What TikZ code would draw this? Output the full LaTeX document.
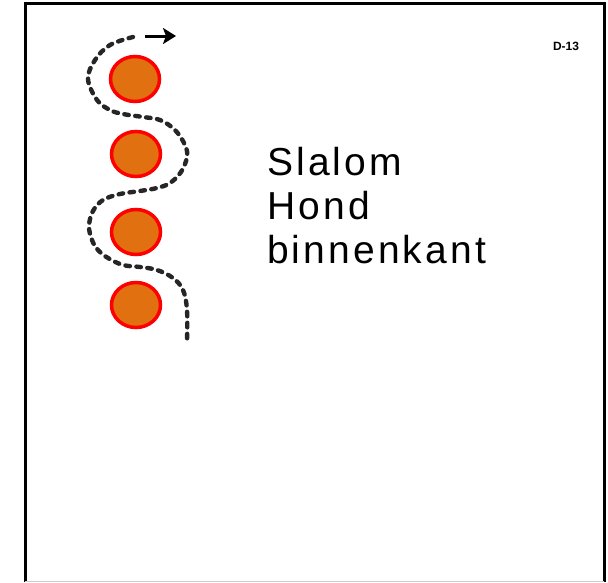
\documentclass[tikz,border=0pt]{standalone}
\usepackage{fontspec}
\setmainfont{Liberation Sans}
\usepackage{xcolor}
\usetikzlibrary{shapes.geometric,arrows.meta}
\definecolor{pylon}{HTML}{E07010}
\tikzset{x=1pt,y=-1pt,
  pylon/.style={ellipse,draw=red,fill=pylon,line width=3.5pt,minimum width=49pt,minimum height=45pt,inner sep=0pt},
  route/.style={line width=4.4pt,color=black!85,line cap=round,dash pattern=on 4.5pt off 6.5pt},
  heading/.style={line width=3pt,arrows={-Stealth[length=13pt,width=16pt,inset=3pt]}},
  caption/.style={anchor=base west,inner sep=0pt,font=\fontsize{39}{44}\selectfont\addfontfeature{LetterSpace=8}}}

\begin{document}
\begin{tikzpicture}
    \useasboundingbox (0,0) rectangle (608,582);
    % frame
    \draw[line width=3pt] (25,582) -- (25,3) -- (604,3) -- (604,582);
    \draw[black!20,line width=1pt] (25,581) -- (604,581);
    \node[font=\fontsize{12}{14}\selectfont\bfseries] (code) at (566,46) {D-13};
    % pylons
    \node[pylon] (c1) at (135,79) {};
    \node[pylon] (c2) at (136,154) {};
    \node[pylon] (c3) at (136,232) {};
    \node[pylon] (c4) at (136,305) {};
    % route of the dog
    \draw[route] plot[smooth,tension=0.6] coordinates {(133,37) (110,45) (95,60) (88,79)
      (97,100) (110,110) (123,114) (143,117) (160,120) (175,130) (185,145) (187,157)
      (181,172) (170,183) (157,188) (140,191) (120,194) (103,200) (93,211) (89,226)
      (92,240) (98,250) (108,258) (123,265) (140,267) (157,270) (173,278) (183,290)
      (187,310) (187,342)};
    \coordinate (start) at (145,36);
    \coordinate (tip) at (176,36);
    \draw[heading] (start) -- (tip);
    % text
    \node[caption] (slalom) at (267,175) {Slalom};
    \node[caption] (hond) at (267,219) {Hond};
    \node[caption] (kant) at (267,263) {binnenkant};
\end{tikzpicture}
\end{document}
